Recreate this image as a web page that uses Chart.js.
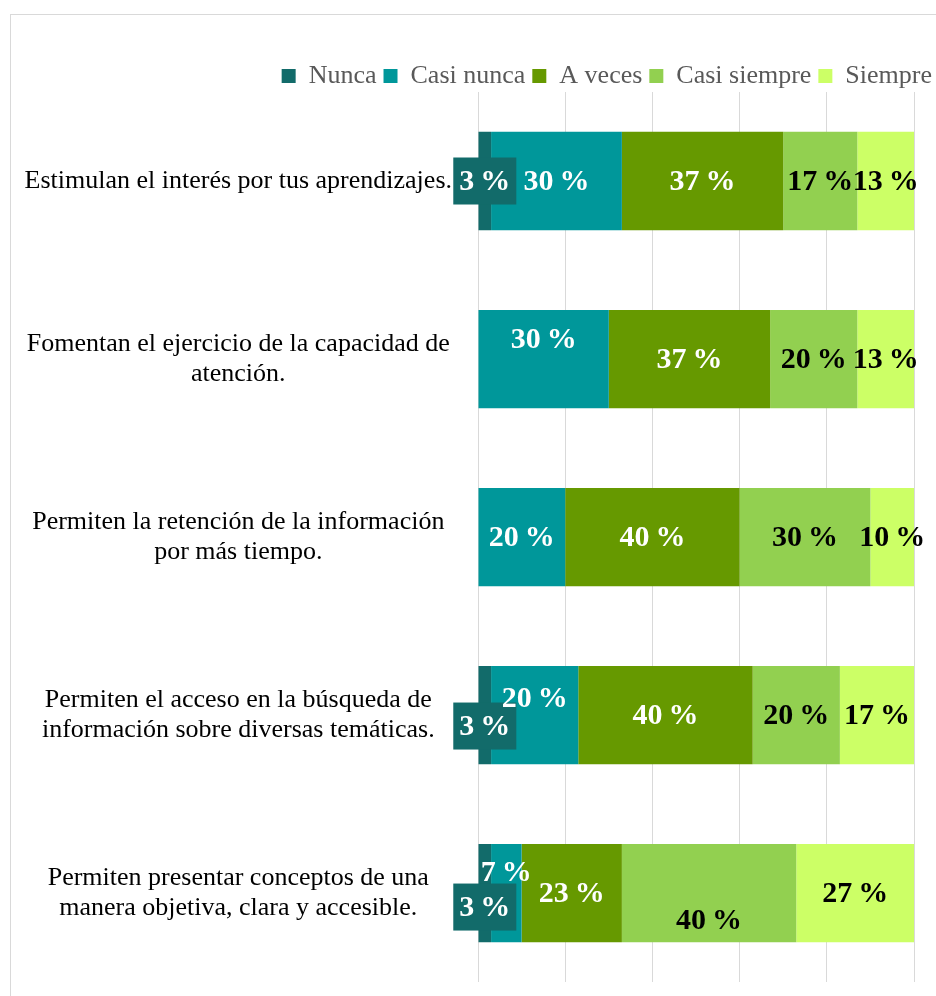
<!DOCTYPE html>
<html>
<head>
<meta charset="utf-8">
<script src="https://cdn.jsdelivr.net/npm/chart.js@4"></script>
<style>
  html, body { margin: 0; padding: 0; background: #fff; overflow: hidden; }
  #wrap {
    position: absolute; left: 10px; top: 14px;
    width: 940px; height: 1000px;
    border: 1px solid #d9d9d9;
  }
</style>
</head>
<body>
<div id="wrap"><canvas id="chart"></canvas></div>
<script>
"use strict";

const categories = [
  'Estimulan el interés por tus aprendizajes.',
  ['Fomentan el ejercicio de la capacidad de', 'atención.'],
  ['Permiten la retención de la información', 'por más tiempo.'],
  ['Permiten el acceso en la búsqueda de', 'información sobre diversas temáticas.'],
  ['Permiten presentar conceptos de una', 'manera objetiva, clara y accesible.'],
];

const seriesNames = ['Nunca', 'Casi nunca', 'A veces', 'Casi siempre', 'Siempre'];

const nunca       = [3, 0, 0, 3, 3];
const casiNunca   = [30, 30, 20, 20, 7];
const aVeces      = [37, 37, 40, 40, 23];
const casiSiempre = [17, 20, 30, 20, 40];
const siempre     = [13, 13, 10, 17, 27];

const xTicks = [0, 20, 40, 60, 80, 100];

// styling
const colors = ['#126b6a', '#00979a', '#669900', '#92d050', '#ccff66'];
const labelColors = ['#ffffff', '#ffffff', '#ffffff', '#000000', '#000000'];
// vertical nudges of some value labels, as placed in the original (dataset -> {index: px})
const labelNudge = {
  0: { 3: 11, 4: 14 },
  1: { 1: -20, 3: -17, 4: -21 },
  3: { 4: 27 },
};

const serif = "'Liberation Serif', 'Times New Roman', serif";

const valueLabels = {
  id: 'valueLabels',
  afterDatasetsDraw(chart) {
    const ctx = chart.ctx;
    ctx.save();
    ctx.font = 'bold 30px ' + serif;
    ctx.textAlign = 'center';
    ctx.textBaseline = 'middle';
    chart.data.datasets.forEach((ds, di) => {
      const meta = chart.getDatasetMeta(di);
      meta.data.forEach((bar, i) => {
        const v = ds.data[i];
        if (!v) return;
        const txt = v + '\u2009%';
        const x = (bar.x + bar.base) / 2;
        const y = bar.y + ((labelNudge[di] || {})[i] || 0);
        if (di === 0) {
          const w = ctx.measureText(txt).width + 12;
          ctx.fillStyle = colors[0];
          ctx.fillRect(x - w / 2, y - 23.5, w, 47);
        }
        ctx.fillStyle = labelColors[di];
        ctx.fillText(txt, x, y + 1);
      });
    });
    ctx.restore();
  }
};

const values = [nunca, casiNunca, aVeces, casiSiempre, siempre];

new Chart(document.getElementById('chart'), {
  type: 'bar',
  data: {
    labels: categories,
    datasets: seriesNames.map((name, i) => ({
      label: name,
      data: values[i],
      backgroundColor: colors[i],
      borderWidth: 0,
      barPercentage: 1,
      categoryPercentage: 0.552,
    })),
  },
  options: {
    indexAxis: 'y',
    responsive: true,
    maintainAspectRatio: false,
    animation: false,
    layout: { padding: { left: 10, right: 12, top: 41, bottom: 28 } },
    plugins: {
      legend: {
        position: 'top',
        align: 'end',
        maxHeight: 36,
        labels: {
          boxWidth: 14,
          boxHeight: 14,
          padding: 7,
          color: '#595959',
          font: { family: serif, size: 26 },
        },
      },
      tooltip: { enabled: false },
    },
    scales: {
      x: {
        stacked: true,
        min: 0,
        max: 100,
        afterBuildTicks: (s) => { s.ticks = xTicks.map(v => ({ value: v })); },
        ticks: { display: false },
        grid: { color: '#d9d9d9', drawTicks: false },
        border: { display: false },
      },
      y: {
        stacked: true,
        grid: { display: false },
        border: { display: false },
        ticks: {
          crossAlign: 'center',
          padding: 18,
          color: '#000000',
          font: { family: serif, size: 26, lineHeight: 1.15 },
        },
        afterFit: (s) => { s.width = 457; },
      },
      y2: {
        position: 'right',
        grid: { display: false },
        border: { display: false },
        ticks: { display: false },
        afterFit: (s) => { s.width = 25; },
      },
    },
  },
  plugins: [valueLabels],
});
</script>
</body>
</html>
